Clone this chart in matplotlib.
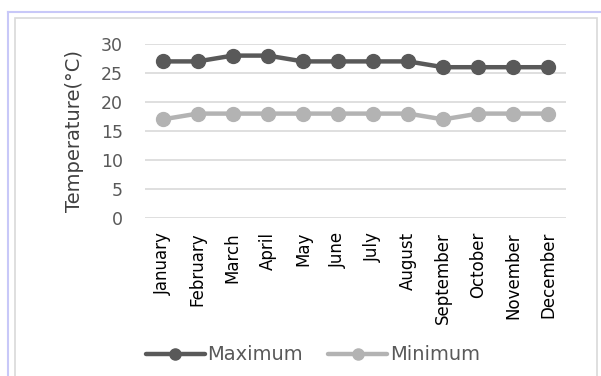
import matplotlib.pyplot as plt
from matplotlib.patches import Rectangle
from matplotlib.lines import Line2D

months = ['January', 'February', 'March', 'April', 'May', 'June', 'July',
          'August', 'September', 'October', 'November', 'December']
t_max = [27, 27, 28, 28, 27, 27, 27, 27, 26, 26, 26, 26]
t_min = [17, 18, 18, 18, 18, 18, 18, 18, 17, 18, 18, 18]
y_ticks = [0, 5, 10, 15, 20, 25, 30]

plt.rcParams['font.family'] = ['DejaVu Sans']

W, H = 601, 376
fig = plt.figure(figsize=(W / 100, H / 100), dpi=100)
fig.patch.set_facecolor('white')

# outer frame bits (blue line top/left, grey chart border)
fig.add_artist(Line2D([8 / W, 1], [1 - 12 / H, 1 - 12 / H], color='#c8c8f8', lw=1.5))
fig.add_artist(Line2D([8 / W, 8 / W], [0, 1 - 12 / H], color='#c8c8f8', lw=1.5))
fig.add_artist(Rectangle((15 / W, -0.05), (597 - 15) / W, 1.05 - 18 / H,
                         fill=False, edgecolor='#d9d9d9', lw=1.2))

ax = fig.add_axes([145 / W, 1 - 218 / H, (566 - 145) / W, (218 - 44) / H])
x = range(len(months))
ax.plot(x, t_max, color='#595959', lw=3.2, marker='o', markersize=10,
        label='Maximum', solid_capstyle='round')
ax.plot(x, t_min, color='#b3b3b3', lw=3.2, marker='o', markersize=10,
        label='Minimum', solid_capstyle='round')

ax.set_xlim(-0.5, len(months) - 0.5)
ax.set_ylim(0, 30)
ax.set_yticks(y_ticks)
ax.set_xticks(list(x))
ax.set_xticklabels(months, rotation=90, fontsize=12, color='black')
ax.tick_params(axis='y', labelsize=12.5, labelcolor='#595959', length=0, pad=16)
ax.tick_params(axis='x', length=0, pad=10)
ax.grid(axis='y', color='#d9d9d9', lw=1.2)
ax.set_axisbelow(True)
for s in ax.spines.values():
    s.set_visible(False)
ax.set_ylabel('Temperature(°C)', fontsize=14, color='#404040', labelpad=12)

fig.legend(loc='center', bbox_to_anchor=(313 / W, 1 - 355 / H), ncol=2,
           frameon=False, fontsize=14, labelcolor='#595959', handlelength=3.0,
           handletextpad=0.15, columnspacing=1.3, markerscale=0.8)

fig.savefig('out.png', dpi=100)
